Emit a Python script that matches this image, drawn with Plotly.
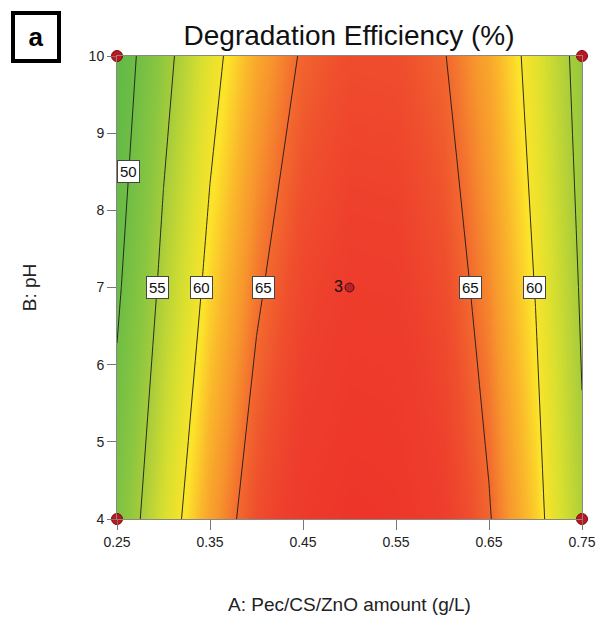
import numpy as np
import plotly.graph_objects as go

# ---- data ----
amount = [0.25, 0.30, 0.35, 0.40, 0.45, 0.50, 0.55, 0.60, 0.65, 0.70, 0.75]   # A: g/L
ph_levels = [4, 7, 10]                                                          # B: pH
eff_ph4 = [51.9, 58.1, 63.0, 66.5, 68.8, 69.9, 69.6, 68.0, 65.2, 61.1, 55.5]
eff_ph7 = [49.4, 55.9, 60.9, 64.6, 67.1, 68.2, 68.1, 66.6, 63.9, 59.9, 54.6]
eff_ph10 = [47.3, 53.8, 58.9, 62.7, 65.3, 66.6, 66.5, 65.2, 62.7, 58.8, 53.6]

design_x = [0.25, 0.25, 0.75, 0.75]
design_y = [4, 10, 4, 10]
center_x = [0.50]
center_y = [7]
center_reps = ["3"]

x_ticks = [0.25, 0.35, 0.45, 0.55, 0.65, 0.75]
y_ticks = [4, 5, 6, 7, 8, 9, 10]

# contour labels: (level, pH row where label sits, side of the ridge)
label_specs = [(50, 8.5, "left"), (55, 7, "left"), (60, 7, "left"),
               (65, 7, "left"), (65, 7, "right"), (60, 7, "right")]

A = np.array(amount)
Z = np.array([eff_ph4, eff_ph7, eff_ph10])
FONT = "Arial, Liberation Sans, sans-serif"

W, H = 598, 618
def paper_x(px):
    return (px - 117) / 465
def paper_y(py):
    return (519 - py) / 463

cmin, cmax = 47, 70
def s(v):
    return (v - cmin) / (cmax - cmin)

colorscale = [
    [0.0, "#5fb947"],
    [s(50), "#6fbd45"],
    [s(53), "#8ac640"],
    [s(55), "#a6cc3b"],
    [s(58), "#d8df2f"],
    [s(60.3), "#fce42a"],
    [s(62), "#fab62b"],
    [s(63.5), "#f7962d"],
    [s(65), "#f2692e"],
    [s(66.3), "#ef4f2d"],
    [s(67.8), "#ee3e2c"],
    [1.0, "#ed3529"],
]

fig = go.Figure()
fig.add_trace(go.Heatmap(x=amount, y=ph_levels, z=Z, zsmooth="best",
                         colorscale=colorscale, zmin=cmin, zmax=cmax,
                         showscale=False, hoverinfo="skip"))
fig.add_trace(go.Contour(x=amount, y=ph_levels, z=Z,
                         contours=dict(start=50, end=65, size=5, coloring="none"),
                         line=dict(color="#1a1a1a", width=0.9, smoothing=0),
                         showscale=False, hoverinfo="skip"))

fig.add_trace(go.Scatter(x=design_x, y=design_y, mode="markers",
                         marker=dict(size=11, color="#c0141e",
                                     line=dict(color="#7a0c10", width=1)),
                         cliponaxis=False, hoverinfo="skip"))
fig.add_trace(go.Scatter(x=center_x, y=center_y, mode="markers+text",
                         text=center_reps, textposition="middle left",
                         textfont=dict(family=FONT, size=16, color="#111"),
                         marker=dict(size=9, color="#b3242a",
                                     line=dict(color="#5a0a0c", width=1)),
                         cliponaxis=False, hoverinfo="skip"))

def row_at(ph):
    return np.array([np.interp(ph, ph_levels, Z[:, j]) for j in range(len(A))])

def crossing(row, level, side):
    imax = int(np.argmax(row))
    if side == "left":
        xs, zs = A[:imax + 1], row[:imax + 1]
    else:
        xs, zs = A[imax:][::-1], row[imax:][::-1]
    return float(np.interp(level, zs, xs))

for level, ph, side in label_specs:
    xl = crossing(row_at(ph), level, side)
    fig.add_annotation(x=xl, y=ph, text=str(level), showarrow=False,
                       font=dict(family=FONT, size=15, color="#111"),
                       bgcolor="white", bordercolor="#444", borderwidth=1,
                       borderpad=2)

# panel letter box
fig.add_annotation(xref="paper", yref="paper", x=paper_x(36), y=paper_y(37),
                   xanchor="center", yanchor="middle",
                   text="<b>a</b>", showarrow=False, width=42, height=44,
                   bgcolor="white", bordercolor="black", borderwidth=4, borderpad=0,
                   font=dict(family=FONT, size=26, color="black"))

fig.update_layout(
    width=W, height=H,
    margin=dict(l=117, r=16, t=56, b=99, autoexpand=False),
    paper_bgcolor="white", plot_bgcolor="white",
    showlegend=False,
    font=dict(family=FONT, color="#222"),
    title=dict(text="Degradation Efficiency (%)", x=349 / W, xanchor="center",
               y=1 - 35 / H, yanchor="middle",
               font=dict(family=FONT, size=28, color="#111")),
)
fig.update_xaxes(range=[0.25, 0.75], tickvals=x_ticks, automargin=False,
                 ticktext=[f"{v:.2f}" for v in x_ticks],
                 ticks="outside", ticklen=10, tickcolor="#777", tickwidth=1,
                 showline=True, linecolor="#888", linewidth=1, mirror=True,
                 showgrid=False, zeroline=False,
                 tickfont=dict(family=FONT, size=14, color="#222"),
                 title=dict(text="A: Pec/CS/ZnO amount (g/L)", standoff=48,
                            font=dict(family=FONT, size=19, color="#222")))
fig.update_yaxes(range=[4, 10], tickvals=y_ticks, automargin=False,
                 ticks="outside", ticklen=9, tickcolor="#777", tickwidth=1,
                 showline=True, linecolor="#888", linewidth=1, mirror=True,
                 showgrid=False, zeroline=False,
                 tickfont=dict(family=FONT, size=14, color="#222"),
                 title=dict(text="B: pH", standoff=46,
                            font=dict(family=FONT, size=19, color="#222")))

fig.write_html("out.html", config={"displayModeBar": False},
               post_script="document.body.style.margin='0';document.body.style.overflow='hidden';")
